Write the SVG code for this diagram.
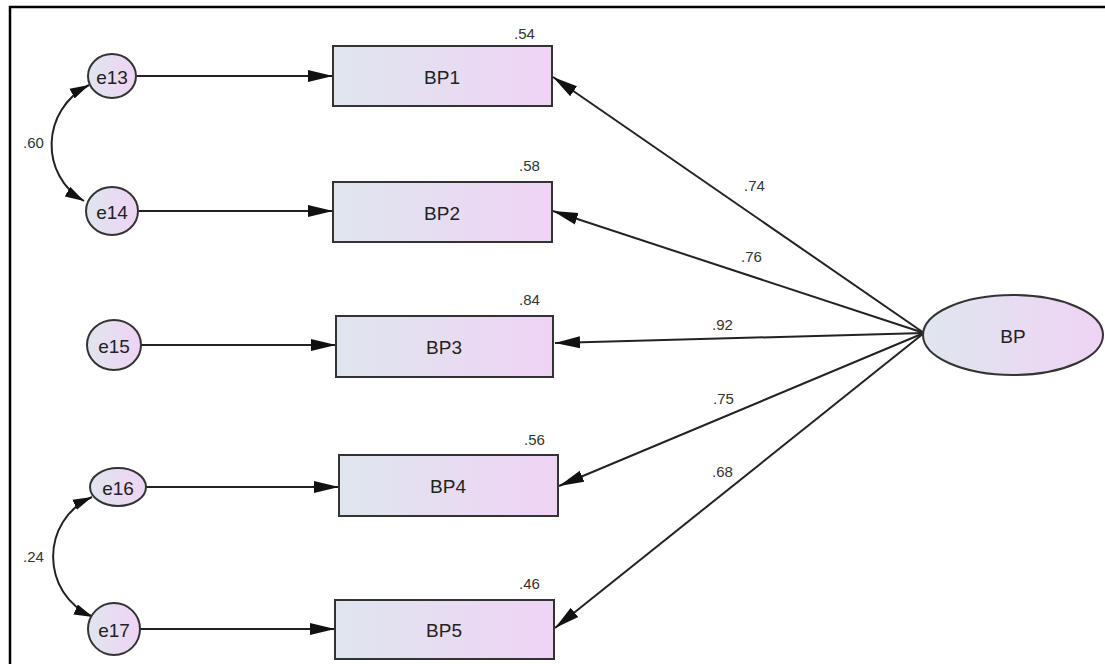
<svg xmlns="http://www.w3.org/2000/svg" width="1105" height="664" viewBox="0 0 1105 664">
  <defs>
    <linearGradient id="fillGrad" x1="0" y1="0" x2="1" y2="0">
      <stop offset="0" stop-color="#dfe6ee"/>
      <stop offset="1" stop-color="#efd3f5"/>
    </linearGradient>
    <marker id="arrow" markerUnits="userSpaceOnUse" markerWidth="26" markerHeight="14" viewBox="0 0 26 14" refX="25" refY="7" orient="auto-start-reverse">
      <path d="M0,1 L25,7 L0,13 z" fill="#111"/>
    </marker>
    <marker id="arrowSmall" markerUnits="userSpaceOnUse" markerWidth="20" markerHeight="12" viewBox="0 0 20 12" refX="19" refY="6" orient="auto-start-reverse">
      <path d="M0,0.5 L19,6 L0,11.5 z" fill="#111"/>
    </marker>
    <style>
      .node { fill: url(#fillGrad); stroke: #333; stroke-width: 2; }
      .lbl { font-family: "Liberation Sans", Arial, sans-serif; font-size: 19px; fill: #222; text-anchor: middle; dominant-baseline: central; }
      .num { font-family: "Liberation Sans", Arial, sans-serif; font-size: 15px; fill: #333; }
      .edge { fill: none; stroke: #222; stroke-width: 2; marker-end: url(#arrow); }
      .cov { fill: none; stroke: #222; stroke-width: 2; marker-start: url(#arrowSmall); marker-end: url(#arrowSmall); }
    </style>
  </defs>

  <rect x="10" y="7" width="1110" height="680" fill="#fff" stroke="#000" stroke-width="2.5"/>

  <g id="connectors">
    <!-- error terms to indicators -->
    <line class="edge" x1="137" y1="76" x2="333" y2="76"/>
    <line class="edge" x1="139" y1="211" x2="333" y2="211"/>
    <line class="edge" x1="141" y1="345" x2="336" y2="345"/>
    <line class="edge" x1="146" y1="487" x2="339" y2="487"/>
    <line class="edge" x1="140" y1="629" x2="335" y2="629"/>
    <!-- latent factor to indicators -->
    <line class="edge" x1="924" y1="333" x2="553" y2="77"/>
    <line class="edge" x1="924" y1="333" x2="553" y2="211"/>
    <line class="edge" x1="924" y1="333" x2="555" y2="343"/>
    <line class="edge" x1="924" y1="333" x2="559" y2="486"/>
    <line class="edge" x1="924" y1="333" x2="555" y2="628"/>
    <!-- error covariances -->
    <path class="cov" d="M89,85 C40,110 40,176 84,201"/>
    <path class="cov" d="M92,497 C40,520 40,594 93,617"/>
  </g>

  <g id="labels">
    <text class="num" x="23" y="148">.60</text>
    <text class="num" x="23" y="562">.24</text>
    <text class="num" x="744" y="191">.74</text>
    <text class="num" x="741" y="262">.76</text>
    <text class="num" x="712" y="330">.92</text>
    <text class="num" x="713" y="404">.75</text>
    <text class="num" x="712" y="477">.68</text>
  </g>

  <g id="e13"><ellipse class="node" cx="112" cy="76" rx="24" ry="22"/><text class="lbl" x="112" y="77">e13</text></g>
  <g id="e14"><ellipse class="node" cx="112" cy="211" rx="26" ry="24"/><text class="lbl" x="112" y="212">e14</text></g>
  <g id="e15"><ellipse class="node" cx="114" cy="345" rx="27" ry="25"/><text class="lbl" x="114" y="346">e15</text></g>
  <g id="e16"><ellipse class="node" cx="118" cy="487" rx="28" ry="19"/><text class="lbl" x="118" y="488">e16</text></g>
  <g id="e17"><ellipse class="node" cx="114" cy="629" rx="26" ry="26"/><text class="lbl" x="114" y="630">e17</text></g>

  <g id="BP1"><rect class="node" x="333" y="46" width="219" height="60"/><text class="lbl" x="442" y="77">BP1</text><text class="num" x="514" y="39">.54</text></g>
  <g id="BP2"><rect class="node" x="333" y="182" width="219" height="60"/><text class="lbl" x="442" y="213">BP2</text><text class="num" x="519" y="171">.58</text></g>
  <g id="BP3"><rect class="node" x="336" y="316" width="217" height="61"/><text class="lbl" x="444" y="347">BP3</text><text class="num" x="519" y="305">.84</text></g>
  <g id="BP4"><rect class="node" x="339" y="455" width="219" height="61"/><text class="lbl" x="448" y="486">BP4</text><text class="num" x="524" y="445">.56</text></g>
  <g id="BP5"><rect class="node" x="335" y="600" width="219" height="59"/><text class="lbl" x="444" y="630">BP5</text><text class="num" x="519" y="589">.46</text></g>

  <g id="BP"><ellipse class="node" cx="1013" cy="335" rx="90" ry="40"/><text class="lbl" x="1013" y="336">BP</text></g>
</svg>
